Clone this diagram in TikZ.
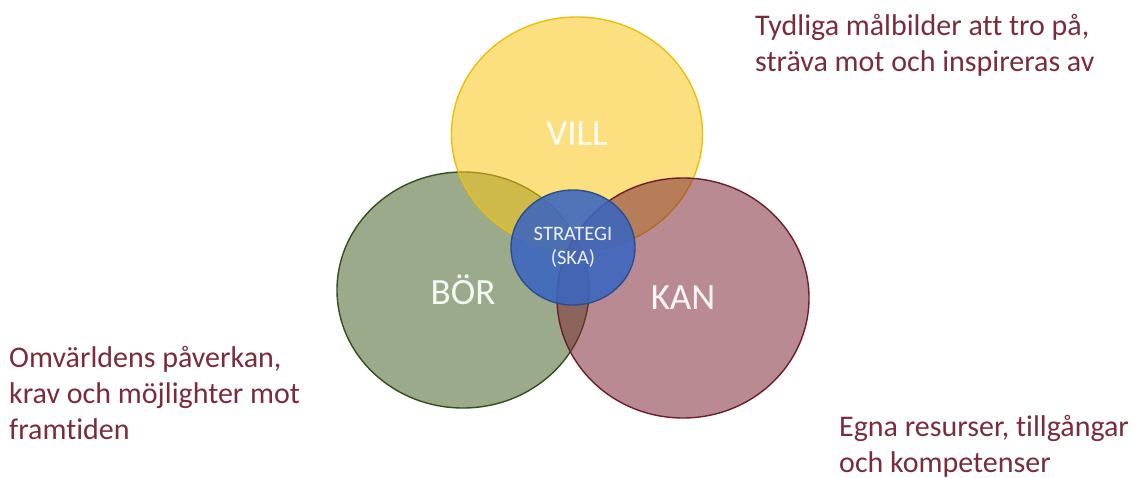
\documentclass[tikz,border=0pt]{standalone}
\usepackage{fontspec}
\setmainfont{Carlito}[Ligatures=NoCommon]
\usetikzlibrary{shapes.geometric}

\definecolor{villfill}{RGB}{250,199,24}
\definecolor{villline}{RGB}{236,190,10}
\definecolor{borfill}{RGB}{71,100,42}
\definecolor{borline}{RGB}{52,78,30}
\definecolor{kanfill}{RGB}{128,42,55}
\definecolor{kanline}{RGB}{110,28,44}
\definecolor{skafill}{RGB}{58,102,192}
\definecolor{skaline}{RGB}{44,78,140}
\definecolor{note}{RGB}{122,44,60}

\tikzset{
  circ/.style={ellipse, inner sep=0pt, line width=1.4pt, fill opacity=0.55,
    text opacity=0.92, text=white, font=\fontsize{37}{44}\selectfont},
  core/.style={ellipse, inner sep=0pt, line width=1.4pt, fill opacity=0.88,
    text opacity=0.9, text=white, align=center, font=\fontsize{20.5}{24}\selectfont},
  % anchored at the baseline of the last line
  notetext/.style={anchor=base west, inner sep=0pt, align=left, text=note,
    font=\fontsize{30}{36}\selectfont},
}

\begin{document}
\begin{tikzpicture}[x=1pt, y=-1pt]
\useasboundingbox (0,0) rectangle (1135,478);

% the three overlapping circles
\node[circ, draw=borline, fill=borfill, minimum width=252pt, minimum height=236pt]
  (bor) at (463,290) {BÖR};
\node[circ, draw=villline, fill=villfill, minimum width=251pt, minimum height=234pt]
  (vill) at (577,134) {VILL};
\node[circ, draw=kanline, fill=kanfill, minimum width=252pt, minimum height=240pt]
  (kan) at (683,298) {KAN};

% the strategy at the centre
\node[core, draw=skaline, fill=skafill, minimum width=124pt, minimum height=115pt]
  (ska) at (573,247.5) {STRATEGI\\(SKA)};

% explanations
\node[notetext] (villnote) at (755,72) {Tydliga målbilder att tro på,\\sträva mot och inspireras av};
\node[notetext] (bornote) at (9,439) {Omvärldens påverkan,\\krav och möjlighter mot\\framtiden};
\node[notetext] (kannote) at (839,472) {Egna resurser, tillgångar\\och kompetenser};
\end{tikzpicture}
\end{document}
